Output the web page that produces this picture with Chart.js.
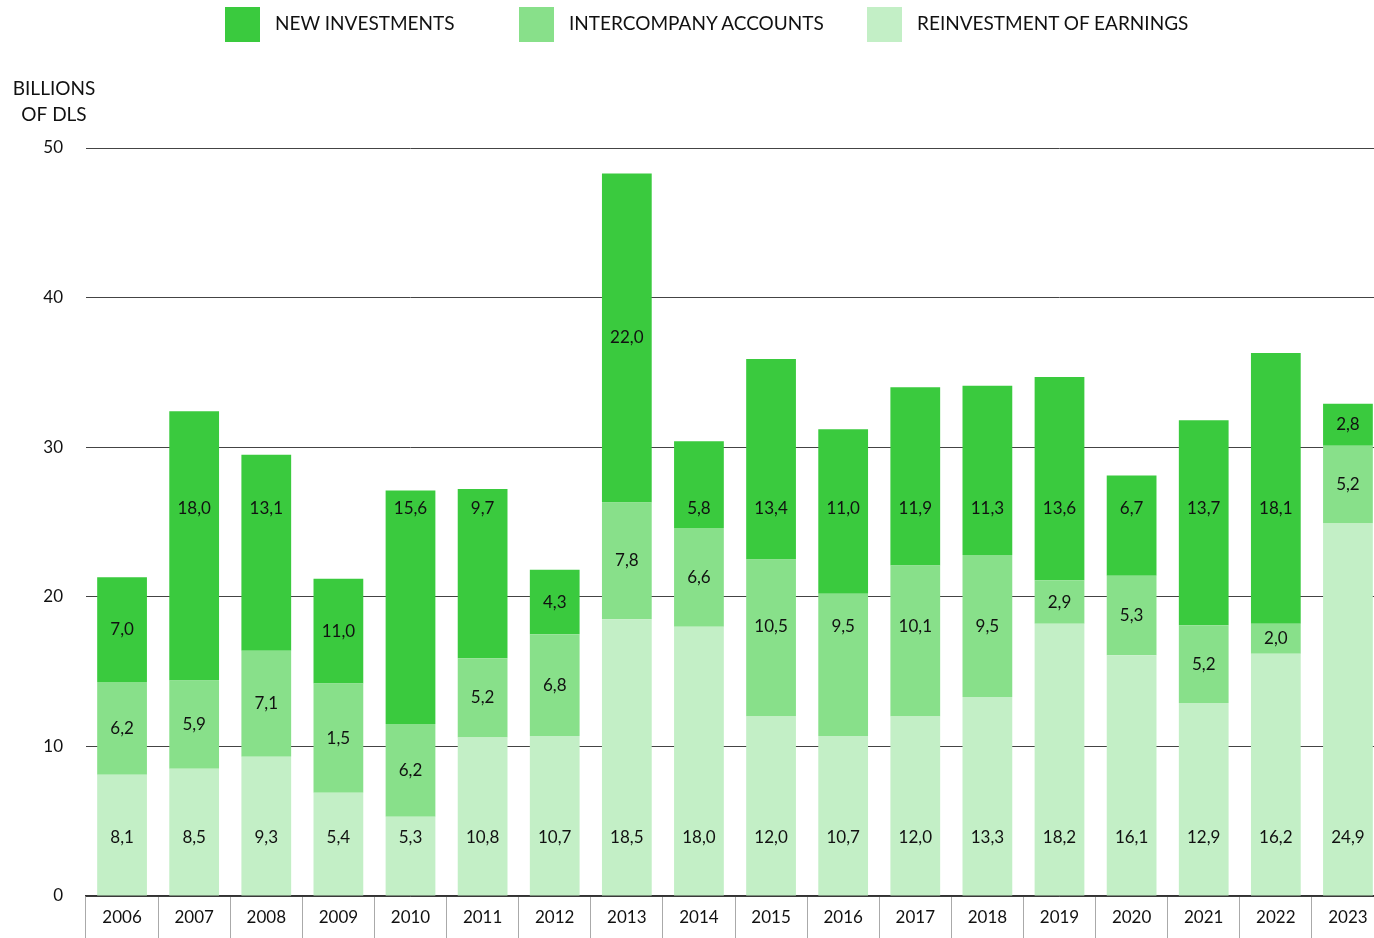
<!DOCTYPE html>
<html>
<head>
<meta charset="utf-8">
<script src="https://cdn.jsdelivr.net/npm/chart.js@4"></script>
<style>
  body { margin: 0; background: #fff; font-family: Lato, sans-serif; }
  #wrap { position: relative; width: 1374px; height: 938px; overflow: hidden; }
  #grafico { position: absolute; left: 0; top: 0; }
  .item { position: absolute; top: 7px; display: flex; align-items: center; font-size: 19px; color: #111; }
  .item span.t { position: relative; top: -2px; }
  .box { width: 35px; height: 35px; margin-right: 15px; }
</style>
</head>
<body>
<div id="wrap">
  <canvas id="grafico" width="1384" height="938"></canvas>
  <div class="item" style="left:225px"><span class="box" style="background:#3aca3e"></span><span class="t">NEW INVESTMENTS</span></div>
  <div class="item" style="left:519px"><span class="box" style="background:#88e08a"></span><span class="t">INTERCOMPANY ACCOUNTS</span></div>
  <div class="item" style="left:867px"><span class="box" style="background:#c3efc6"></span><span class="t">REINVESTMENT OF EARNINGS</span></div>
</div>
<script>
const anos = ['2006', '2007', '2008', '2009', '2010', '2011', '2012', '2013', '2014',
              '2015', '2016', '2017', '2018', '2019', '2020', '2021', '2022', '2023'];

// altura das barras
const novos   = [7.0, 18.0, 13.1, 7.0, 15.6, 11.3, 4.3, 22.0, 5.8, 13.4, 11.0, 11.9, 11.3, 13.6, 6.7, 13.7, 18.1, 2.8];
const contas  = [6.2, 5.9, 7.1, 7.3, 6.2, 5.3, 6.8, 7.8, 6.6, 10.5, 9.5, 10.1, 9.5, 2.9, 5.3, 5.2, 2.0, 5.2];
const reinv   = [8.1, 8.5, 9.3, 6.9, 5.3, 10.6, 10.7, 18.5, 18.0, 12.0, 10.7, 12.0, 13.3, 18.2, 16.1, 12.9, 16.2, 24.9];

// valores impressos nas barras
const novosTxt  = [7.0, 18.0, 13.1, 11.0, 15.6, 9.7, 4.3, 22.0, 5.8, 13.4, 11.0, 11.9, 11.3, 13.6, 6.7, 13.7, 18.1, 2.8];
const contasTxt = [6.2, 5.9, 7.1, 1.5, 6.2, 5.2, 6.8, 7.8, 6.6, 10.5, 9.5, 10.1, 9.5, 2.9, 5.3, 5.2, 2.0, 5.2];
const reinvTxt  = [8.1, 8.5, 9.3, 5.4, 5.3, 10.8, 10.7, 18.5, 18.0, 12.0, 10.7, 12.0, 13.3, 18.2, 16.1, 12.9, 16.2, 24.9];

const yTicks = [0, 10, 20, 30, 40, 50];

const textos = [reinvTxt, contasTxt, novosTxt];

function posicaoRotulo(ds, inicio, fim) {
    const meio = (inicio + fim) / 2;
    if (ds === 0) return fim >= 5 ? 3.9 : meio;
    if (ds === 1) return (inicio <= 17 && fim >= 19 && fim - inicio > 6) ? 18 : meio;
    return (inicio <= 25 && fim >= 27) ? 25.9 : meio;
}

const rotulos = {
    id: 'rotulos',
    afterDatasetsDraw(chart) {
        const ctx = chart.ctx;
        const y = chart.scales.y;
        ctx.save();
        ctx.font = '17px Lato';
        ctx.fillStyle = '#111';
        ctx.textAlign = 'center';
        ctx.textBaseline = 'middle';
        chart.data.datasets.forEach((d, i) => {
            const meta = chart.getDatasetMeta(i);
            meta.data.forEach((bar, j) => {
                let inicio = 0;
                for (let k = 0; k < i; k++) inicio += chart.data.datasets[k].data[j];
                const fim = inicio + d.data[j];
                const v = posicaoRotulo(i, inicio, fim);
                ctx.fillText(textos[i][j].toFixed(1).replace('.', ','), bar.x, y.getPixelForValue(v));
            });
        });
        ctx.restore();
    }
};

const tituloY = {
    id: 'tituloY',
    afterDraw(chart) {
        const ctx = chart.ctx;
        ctx.save();
        ctx.font = '19px Lato';
        ctx.fillStyle = '#111';
        ctx.textAlign = 'center';
        ctx.textBaseline = 'middle';
        ctx.fillText('BILLIONS', 54, 89);
        ctx.fillText('OF DLS', 54, 115);
        ctx.restore();
    }
};

new Chart(document.getElementById('grafico').getContext('2d'), {
    type: 'bar',
    data: {
        labels: anos,
        datasets: [
            { label: 'REINVESTMENT OF EARNINGS', data: reinv, backgroundColor: '#c3efc6' },
            { label: 'INTERCOMPANY ACCOUNTS', data: contas, backgroundColor: '#88e08a' },
            { label: 'NEW INVESTMENTS', data: novos, backgroundColor: '#3aca3e' }
        ]
    },
    options: {
        responsive: false,
        animation: false,
        maintainAspectRatio: false,
        datasets: { bar: { barPercentage: 0.69, categoryPercentage: 1 } },
        layout: { padding: { top: 148, right: 0, left: 0, bottom: 0 } },
        plugins: {
            legend: { display: false },
            tooltip: { enabled: false }
        },
        scales: {
            x: {
                stacked: true,
                grid: { offset: true, drawOnChartArea: false, tickLength: 42, color: '#aaaaaa', lineWidth: 1 },
                border: { display: true, color: '#333', width: 1.5 },
                ticks: { color: '#111', font: { family: 'Lato', size: 17 }, padding: -31 },
                afterFit: (axis) => { axis.height = 42; }
            },
            y: {
                stacked: true,
                min: 0,
                max: 50,
                afterBuildTicks: (axis) => { axis.ticks = yTicks.map(v => ({ value: v })); },
                grid: { drawTicks: false, color: '#444', lineWidth: 1 },
                border: { display: false },
                ticks: { color: '#111', font: { family: 'Lato', size: 17 }, padding: 23 },
                afterFit: (axis) => { axis.width = 86; }
            }
        }
    },
    plugins: [rotulos, tituloY]
});
</script>
</body>
</html>
